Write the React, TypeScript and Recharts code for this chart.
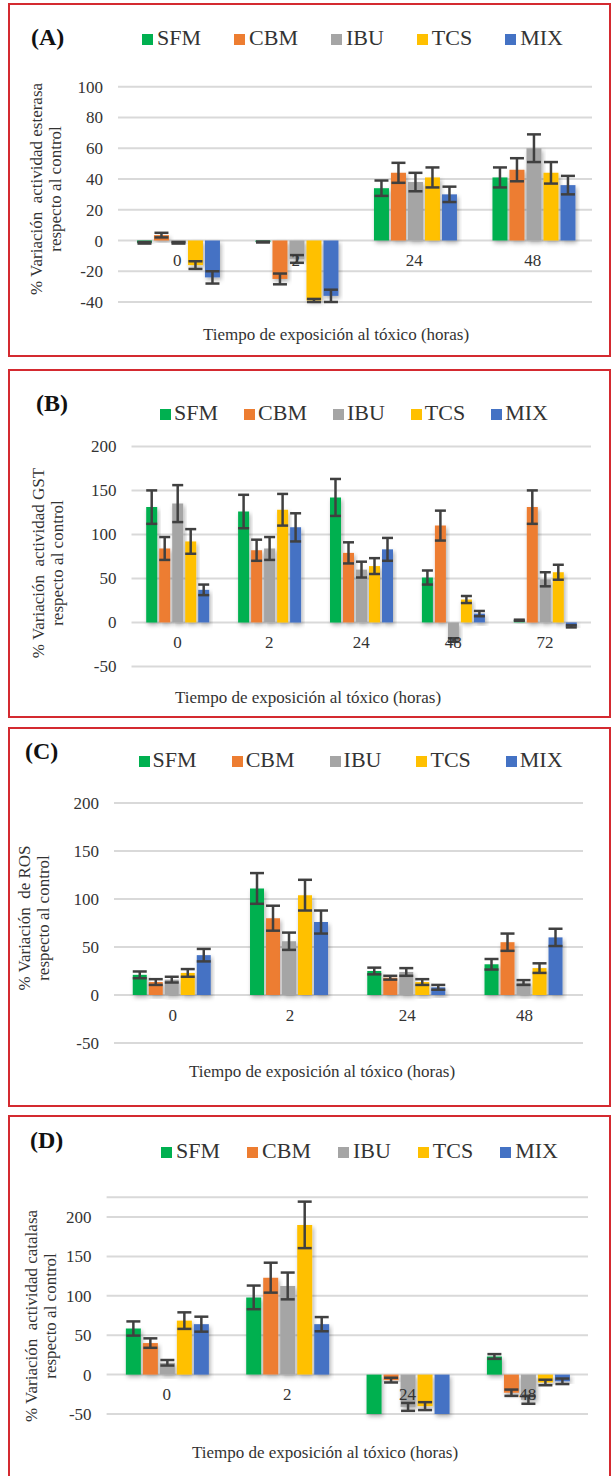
import React from 'react';
import { BarChart, Bar, XAxis, YAxis, CartesianGrid, ErrorBar, Legend } from 'recharts';

const SERIES = ['SFM', 'CBM', 'IBU', 'TCS', 'MIX'];
const COLORS = ['#00B050', '#ED7D31', '#A5A5A5', '#FFC000', '#4472C4'];
const FONT = "'Liberation Serif', 'Times New Roman', serif";
const INK = '#333333';
const X_TITLE = 'Tiempo de exposición al tóxico (horas)';
const Y_AXIS_W = 40;
const X_AXIS_H = 30;

// (A) esterasa
const catsA = ['0', '2', '24', '48'];
const sfmA = [-1.5, -1, 34, 41];
const sfmErrA = [0.5, 0.3, 5, 6.5];
const cbmA = [3.5, -25, 44, 46];
const cbmErrA = [1.5, 3.5, 6.5, 7.5];
const ibuA = [-1.5, -12, 38, 60];
const ibuErrA = [0.5, 2.5, 6, 9];
const tcsA = [-16, -39, 41, 44];
const tcsErrA = [2.5, 1, 6.5, 7];
const mixA = [-24, -36, 30, 36];
const mixErrA = [4, 4, 5, 6];
const ticksA = [-40, -20, 0, 20, 40, 60, 80, 100];

// (B) GST
const catsB = ['0', '2', '24', '48', '72'];
const sfmB = [131, 126, 142, 51, 2.5];
const sfmErrB = [19, 19, 21, 8, 0.6];
const cbmB = [84, 82, 79, 110, 131];
const cbmErrB = [13, 12, 12, 17, 19];
const ibuB = [135, 84, 60, -20, 49];
const ibuErrB = [21, 13, 9, 2, 8];
const tcsB = [92, 128, 64, 26, 57];
const tcsErrB = [14, 18, 9, 4, 8.5];
const mixB = [37, 108, 83, 10, -4.5];
const mixErrB = [6, 16, 13, 3, 1.2];
const ticksB = [-50, 0, 50, 100, 150, 200];

// (C) ROS
const catsC = ['0', '2', '24', '48'];
const sfmC = [21, 111, 25, 32];
const sfmErrC = [3.5, 16, 3.5, 5.5];
const cbmC = [13.5, 80, 18, 55];
const cbmErrC = [3, 13, 2, 9];
const ibuC = [16, 56, 24, 13];
const ibuErrC = [3, 9, 4, 2.5];
const tcsC = [23, 104, 13.5, 28];
const tcsErrC = [4, 16, 3, 5];
const mixC = [41.5, 76, 8, 60];
const mixErrC = [6.5, 12, 2.5, 9];
const ticksC = [-50, 0, 50, 100, 150, 200];

// (D) catalasa
const catsD = ['0', '2', '24', '48'];
const sfmD = [58.5, 98, -50, 23];
const sfmErrD = [9, 15, 0, 3];
const cbmD = [40, 123, -7, -23];
const cbmErrD = [6, 19, 3, 4];
const ibuD = [15, 112.5, -41, -32];
const ibuErrD = [3.5, 17, 5, 5];
const tcsD = [68.5, 190, -40, -10];
const tcsErrD = [10.5, 29.5, 5, 3.5];
const mixD = [64, 64, -50, -8.5];
const mixErrD = [9.5, 9, 0, 3.5];
const ticksD = [-50, 0, 50, 100, 150, 200];

const buildRows = (cats: string[], vals: number[][], errs: number[][]) =>
  cats.map((c, i) => {
    const row: Record<string, any> = { cat: c };
    SERIES.forEach((s, k) => {
      row[s] = vals[k][i];
      row[s + '_e'] = errs[k][i];
    });
    return row;
  });

const panels = [
  {
    letter: '(A)',
    yLabel: '% Variación  actividad esterasa\nrespecto al control',
    rows: buildRows(catsA, [sfmA, cbmA, ibuA, tcsA, mixA], [sfmErrA, cbmErrA, ibuErrA, tcsErrA, mixErrA]),
    domain: [-40, 100], ticks: ticksA,
    box: { top: 3, bottom: 357 },
    plot: { left: 118, right: 592, top: 86.7, bottom: 302 },
    letterPos: [31, 37], legend: { x: 142, y: 37.5, gap: 33, iconGap: 4 },
    yLabelPos: [46, 189], xTitlePos: [336, 335], cap: 7,
  },
  {
    letter: '(B)',
    yLabel: '% Variación  actividad GST\nrespecto al control',
    rows: buildRows(catsB, [sfmB, cbmB, ibuB, tcsB, mixB], [sfmErrB, cbmErrB, ibuErrB, tcsErrB, mixErrB]),
    domain: [-50, 200], ticks: ticksB,
    box: { top: 369, bottom: 718 },
    plot: { left: 131.5, right: 591, top: 446.4, bottom: 666.4 },
    letterPos: [36, 403], legend: { x: 160, y: 412.6, gap: 26, iconGap: 3 },
    yLabelPos: [48, 562.6], xTitlePos: [308, 697.6], cap: 5.5,
  },
  {
    letter: '(C)',
    yLabel: '% Variación  de ROS\nrespecto al control',
    rows: buildRows(catsC, [sfmC, cbmC, ibuC, tcsC, mixC], [sfmErrC, cbmErrC, ibuErrC, tcsErrC, mixErrC]),
    domain: [-50, 200], ticks: ticksC,
    box: { top: 727, bottom: 1107 },
    plot: { left: 114, right: 583, top: 803, bottom: 1043 },
    letterPos: [25, 751], legend: { x: 138.6, y: 760, gap: 35, iconGap: 3 },
    yLabelPos: [34, 917.5], xTitlePos: [322, 1072], cap: 7,
  },
  {
    letter: '(D)',
    yLabel: '% Variación  actividad catalasa\nrespecto al control',
    rows: buildRows(catsD, [sfmD, cbmD, ibuD, tcsD, mixD], [sfmErrD, cbmErrD, ibuErrD, tcsErrD, mixErrD]),
    domain: [-50, 225], ticks: ticksD,
    box: { top: 1115, bottom: 1482 },
    plot: { left: 106.6, right: 588, top: 1197.3, bottom: 1414 },
    letterPos: [30, 1140], legend: { x: 161, y: 1151, gap: 27, iconGap: 4 },
    yLabelPos: [40.5, 1315.7], xTitlePos: [325, 1452.8], cap: 7,
  },
];

const LegendRow = ({ payload, gap, iconGap }: any) => {
  const items = SERIES.map((s) => (payload || []).find((p: any) => p.value === s)).filter(Boolean);
  return (
    <div style={{ display: 'flex', alignItems: 'center', height: 26, fontFamily: FONT, fontSize: 22, color: INK }}>
      {items.map((it: any) => (
        <div key={it.value} style={{ display: 'flex', alignItems: 'center', marginRight: gap }}>
          <span style={{ width: 11, height: 11, background: it.color, marginRight: iconGap, marginTop: 3 }} />
          <span style={{ lineHeight: '26px', whiteSpace: 'nowrap', fontFamily: FONT }}>{it.value}</span>
        </div>
      ))}
    </div>
  );
};

const Panel = ({ p }: { p: any }) => {
  const h = p.box.bottom - p.box.top;
  const margin = {
    top: p.plot.top - p.box.top,
    bottom: p.box.bottom - p.plot.bottom - X_AXIS_H,
    left: p.plot.left - Y_AXIS_W,
    right: 612 - p.plot.right,
  };
  const plotH = p.plot.bottom - p.plot.top;
  const [lo, hi] = p.domain;
  const zeroY = margin.top + (plotH * hi) / (hi - lo);
  const catTick = (t: any) => (
    <text x={t.x} y={zeroY + 20} textAnchor="middle" dominantBaseline="central"
      fontFamily={FONT} fontSize={17} fill={INK}>{t.payload.value}</text>
  );

  return (
    <>
      <div style={{ position: 'absolute', left: 8, top: p.box.top, width: 603, height: h, border: '2px solid #D42A30', boxSizing: 'border-box' }} />
      <div style={{ position: 'absolute', left: 0, top: p.box.top }}>
        <BarChart width={612} height={h} data={p.rows} margin={margin} barCategoryGap="16%" barGap={2}>
          <CartesianGrid vertical={false} stroke="#D9D9D9" strokeWidth={2} />
          <XAxis dataKey="cat" height={X_AXIS_H} axisLine={false} tickLine={false} interval={0} tick={catTick} />
          <YAxis type="number" domain={p.domain} ticks={p.ticks} interval={0} width={Y_AXIS_W}
            axisLine={false} tickLine={false} tickSize={0} tickMargin={15}
            tick={{ fontFamily: FONT, fontSize: 17, fill: INK }} />
          <Legend layout="horizontal" verticalAlign="middle" align="center"
            wrapperStyle={{ position: 'absolute', left: p.legend.x, top: p.legend.y - p.box.top - 13, width: 'auto', height: 26 }}
            content={(props: any) => <LegendRow payload={props.payload} gap={p.legend.gap} iconGap={p.legend.iconGap} />} />
          {SERIES.map((s, k) => (
            <Bar key={s} dataKey={s} fill={COLORS[k]} isAnimationActive={false} filter="url(#barShadow)">
              <ErrorBar dataKey={s + '_e'} width={p.cap} stroke="#404040" strokeWidth={2.5} />
            </Bar>
          ))}
        </BarChart>
      </div>
      <div style={{ position: 'absolute', left: p.letterPos[0], top: p.letterPos[1], transform: 'translateY(-50%)',
        fontFamily: FONT, fontWeight: 'bold', fontSize: 24, lineHeight: 1, color: '#111' }}>{p.letter}</div>
      <div style={{ position: 'absolute', left: p.yLabelPos[0], top: p.yLabelPos[1],
        transform: 'translate(-50%, -50%) rotate(-90deg)', whiteSpace: 'pre', textAlign: 'center',
        fontFamily: FONT, fontSize: 17, lineHeight: '18.5px', color: INK }}>{p.yLabel}</div>
      <div style={{ position: 'absolute', left: p.xTitlePos[0], top: p.xTitlePos[1],
        transform: 'translate(-50%, -50%)', whiteSpace: 'nowrap',
        fontFamily: FONT, fontSize: 17, color: INK }}>{X_TITLE}</div>
    </>
  );
};

export default function App() {
  return (
    <div style={{ position: 'absolute', left: 0, top: 0, width: 612, height: 1476, overflow: 'hidden', background: '#fff' }}>
      <svg width={0} height={0} style={{ position: 'absolute' }}>
        <defs>
          <filter id="barShadow" x="-30%" y="-30%" width="160%" height="160%">
            <feDropShadow dx={1.5} dy={2.5} stdDeviation={2} floodColor="#000" floodOpacity={0.3} />
          </filter>
        </defs>
      </svg>
      {panels.map((p) => (
        <Panel key={p.letter} p={p} />
      ))}
    </div>
  );
}
